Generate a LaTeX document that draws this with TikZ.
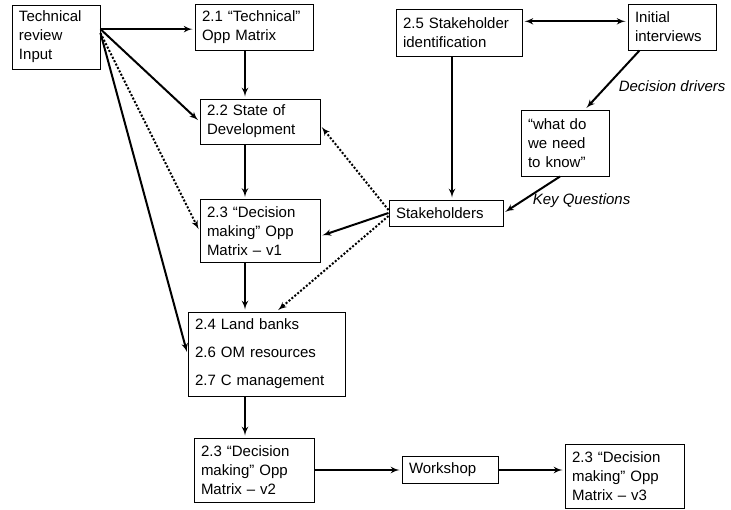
\documentclass[tikz,border=0pt]{standalone}
\usepackage{fontspec}
\setmainfont{Liberation Sans}
\usepackage{tikz}
\usetikzlibrary{positioning}
\usetikzlibrary{arrows}
\tikzset{>=latex'}
\tikzset{box/.style={draw, line width=1pt, align=left, inner xsep=7pt, inner ysep=0pt, font=\fontsize{15}{19}\selectfont}}
\tikzset{flow/.style={->, line width=2pt, shorten >=2pt}}
\tikzset{hint/.style={->, line width=2pt, shorten >=2pt, dash pattern=on 2pt off 1.8pt}}
\tikzset{cue/.style={font=\fontsize{15}{19}\selectfont\itshape, inner sep=0pt, anchor=west}}

\begin{document}
\begin{tikzpicture}[x=1pt,y=-1pt]
	\useasboundingbox (0,0) rectangle (731,509);
	\node[box, text width=74pt, minimum height=64pt] (tr) at (56,37) {Technical\\review\\Input};
	\node[box, text width=104pt, minimum height=46pt] (m21) at (254,27) {2.1 “Technical”\\Opp Matrix};
	\node[box, text width=106pt, minimum height=45pt] (sod) at (260,121.5) {2.2 State of\\Development};
	\node[box, text width=106pt, minimum height=63pt] (dm1) at (260,231) {2.3 “Decision\\making” Opp\\Matrix – v1};
	\node[box, text width=143pt, minimum height=84pt] (lnd) at (266.5,354) {2.4 Land banks\\[9pt]2.6 OM resources\\[9pt]2.7 C management};
	\node[box, text width=106pt, minimum height=64pt] (dm2) at (254,470) {2.3 “Decision\\making” Opp\\Matrix – v2};
	\node[box, text width=82pt, minimum height=27pt, right=87pt of dm2] (wks) {Workshop};
	\node[box, text width=105pt, minimum height=64pt] (dm3) at (624.5,476) {2.3 “Decision\\making” Opp\\Matrix – v3};
	\node[box, text width=112pt, minimum height=47pt] (sid) at (459,32.5) {2.5 Stakeholder\\identification};
	\node[box, text width=74pt, minimum height=46pt] (ini) at (672,27) {Initial\\interviews};
	\node[box, text width=74pt, minimum height=66pt] (need) at (565,143) {“what do\\we need\\to know”};
	\node[box, text width=100pt, minimum height=26pt] (stk) at (446,213) {Stakeholders};
	\coordinate (spine) at (245,0);

	\draw[flow] (tr.10) -- (tr.10 -| m21.west);
	\draw[flow] (tr.10) -- (sod.west);
	\draw[hint] (tr.5) -- (dm1.west);
	\draw[flow] (tr.5) -- (lnd.west);
	\draw[flow] (m21.south -| spine) -- (sod.north -| spine);
	\draw[flow] (sod.south -| spine) -- (dm1.north -| spine);
	\draw[flow] (dm1.south -| spine) -- (lnd.north -| spine);
	\draw[flow] (lnd.south -| spine) -- (dm2.north -| spine);
	\draw[flow] (dm2.east) -- (wks.west);
	\draw[flow] (wks.east) -- (wks.east -| dm3.west);
	\draw[flow, <->, shorten <=2pt] (sid.10) -- (sid.10 -| ini.west);
	\draw[flow] ([xshift=-7pt]sid.south) -- ([xshift=-7pt]sid.south |- stk.north);
	\draw[flow] ([xshift=12pt]ini.south west) -- ([xshift=20pt]need.north)
		node[cue, pos=0.6, xshift=11pt] {Decision drivers};
	\draw[flow] ([xshift=-5pt]need.south) -- (stk.east)
		node[cue, pos=0.5, yshift=-6pt] {Key Questions};
	\draw[flow] (stk.west) -- ([yshift=-5pt]dm1.east);
	\draw[hint] ([yshift=3pt]stk.west) -- ([yshift=-4pt]sod.east);
	\draw[hint] ([yshift=-3pt]stk.west) -- ([xshift=10pt]lnd.north);
\end{tikzpicture}
\end{document}
